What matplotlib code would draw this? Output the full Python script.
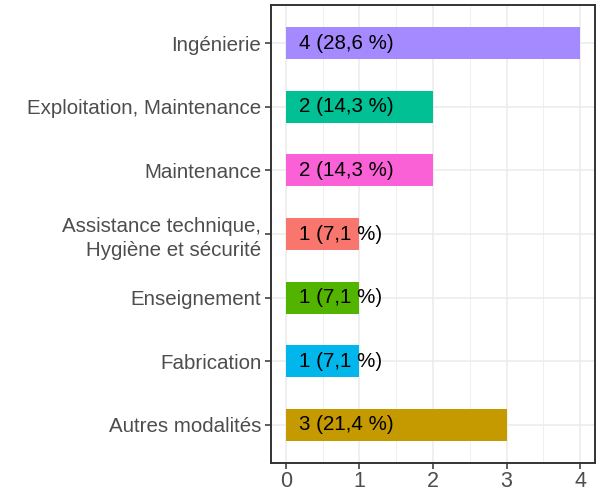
import matplotlib
matplotlib.use("Agg")
import matplotlib.pyplot as plt
import numpy as np

# ──── DATA ───────────────────────────────────────────────────────────────────

categories = [
    "Ingénierie",
    "Exploitation, Maintenance",
    "Maintenance",
    "Assistance technique,\nHygiène et sécurité",
    "Enseignement",
    "Fabrication",
    "Autres modalités",
]
counts = [4, 2, 2, 1, 1, 1, 3]
labels = ["4 (28,6 %)", "2 (14,3 %)", "2 (14,3 %)", "1 (7,1 %)", "1 (7,1 %)", "1 (7,1 %)", "3 (21,4 %)"]
colors = ["#A58AFF", "#00C094", "#FB61D7", "#F8766D", "#53B400", "#00B6EB", "#C49A00"]
x_ticks = [0, 1, 2, 3, 4]

# ──── PLOT SETTINGS ──────────────────────────────────────────────────────────

plt.rcParams.update(
    {
        "font.family": ["Liberation Sans", "DejaVu Sans"],
        "font.size": 15,
    }
)

fig = plt.figure(figsize=(6.01, 4.96), dpi=100)
ax = fig.add_axes([271 / 601, 33 / 496, 324 / 601, 458 / 496])

n = len(categories)
ypos = np.arange(n)[::-1] + 1  # first category on top

ax.barh(ypos, counts, height=0.5, color=colors, zorder=3)
for y, lab in zip(ypos, labels):
    ax.text(0.18, y, lab, ha="left", va="center", fontsize=14.8, color="black", zorder=4)

ax.set_xlim(-0.2, 4.2)
ax.set_ylim(0.4, n + 0.6)
ax.set_xticks(x_ticks)
ax.set_xticks(np.arange(0.5, 4, 1), minor=True)
ax.set_yticks(ypos)
ax.set_yticklabels(categories, ha="right", linespacing=1.3)

ax.grid(True, which="major", color="#EBEBEB", linewidth=1.1, zorder=0)
ax.grid(True, which="minor", axis="x", color="#EBEBEB", linewidth=0.55, zorder=0)
ax.set_axisbelow(True)

for spine in ax.spines.values():
    spine.set_color("#333333")
    spine.set_linewidth(1.4)

ax.tick_params(axis="both", which="major", length=4, width=1.1, color="#333333",
               labelcolor="#4D4D4D", labelsize=14.8, pad=3)
ax.tick_params(axis="x", labelsize=15.5, pad=2)
ax.tick_params(which="minor", length=0)

fig.savefig("out.png", dpi=100)
